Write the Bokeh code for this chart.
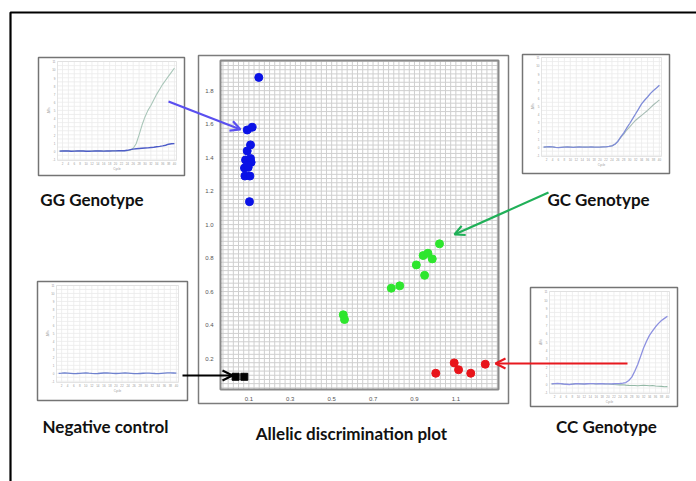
import math
import numpy as np
from bokeh.plotting import figure
from bokeh.models import Range1d, Arrow, OpenHead
from bokeh.core.properties import value
from bokeh.embed import file_html
from bokeh.resources import INLINE

# ---------------- data: allelic discrimination plot ----------------
gg_x = [0.148, 0.092, 0.116, 0.108, 0.092, 0.084, 0.108, 0.111, 0.079, 0.097, 0.094, 0.081, 0.105, 0.103]
gg_y = [1.879, 1.565, 1.581, 1.476, 1.440, 1.386, 1.395, 1.372, 1.338, 1.342, 1.355, 1.290, 1.290, 1.137]
gc_x = [1.021, 0.942, 0.965, 0.986, 0.909, 0.949, 0.788, 0.829, 0.556, 0.562]
gc_y = [0.885, 0.815, 0.829, 0.795, 0.759, 0.697, 0.620, 0.634, 0.461, 0.433]
cc_x = [1.092, 1.242, 1.113, 1.003, 1.172]
cc_y = [0.174, 0.166, 0.133, 0.112, 0.112]
ntc_x = [0.036, 0.078]
ntc_y = [0.091, 0.091]

x_ticks = [0.1, 0.3, 0.5, 0.7, 0.9, 1.1]
x_tick_labels = ["0.1", "0.3", "0.5", "0.7", "0.9", "1.1"]
y_ticks = [0.2, 0.4, 0.6, 0.8, 1.0, 1.2, 1.4, 1.6, 1.8]
y_tick_labels = ["0.2", "0.4", "0.6", "0.8", "1.0", "1.2", "1.4", "1.6", "1.8"]

# ---------------- data: amplification plots (cycles 1..40) ----------------
cycles = list(range(1, 41))
gg_curve_blue = [0.00, 0.02, 0.03, 0.01, -0.02, 0.00, 0.02, 0.03, 0.01, -0.01,
                 -0.02, 0.00, 0.02, 0.03, 0.02, 0.00, 0.01, 0.02, 0.03, 0.03,
                 0.04, 0.04, 0.05, 0.10, 0.18, 0.25, 0.30, 0.33, 0.36, 0.38,
                 0.40, 0.44, 0.48, 0.53, 0.58, 0.64, 0.72, 0.85, 0.90, 0.92]
gg_curve_pale = [0.00, 0.02, 0.03, 0.01, -0.02, 0.00, 0.02, 0.03, 0.01, -0.01,
                 -0.02, 0.00, 0.02, 0.03, 0.02, 0.00, 0.01, 0.02, 0.03, 0.03,
                 0.04, 0.04, 0.05, 0.06, 0.10, 0.35, 0.90, 2.00, 3.20, 4.20,
                 5.00, 5.60, 6.30, 7.00, 7.60, 8.20, 8.70, 9.20, 9.70, 10.20]
gc_curve_blue = [0.00, 0.03, 0.05, 0.02, -0.03, -0.05, -0.02, 0.01, 0.02, 0.00,
                 -0.02, 0.00, 0.02, 0.01, 0.00, 0.01, 0.02, 0.00, -0.01, 0.00,
                 0.02, 0.04, 0.08, 0.15, 0.35, 0.70, 1.25, 1.75, 2.35, 2.90,
                 3.50, 4.10, 4.70, 5.30, 5.75, 6.15, 6.60, 6.95, 7.25, 7.60]
gc_curve_pale = [0.00, 0.03, 0.05, 0.02, -0.03, -0.05, -0.02, 0.01, 0.02, 0.00,
                 -0.02, 0.00, 0.02, 0.01, 0.00, 0.01, 0.02, 0.00, -0.01, 0.00,
                 0.02, 0.04, 0.08, 0.15, 0.35, 0.70, 1.20, 1.60, 2.10, 2.50,
                 2.90, 3.30, 3.60, 3.90, 4.20, 4.50, 4.85, 5.20, 5.50, 5.80]
cc_curve_blue = [0.00, 0.02, 0.04, 0.02, -0.02, -0.05, -0.08, -0.03, 0.01, 0.02,
                 0.00, -0.02, 0.01, 0.03, 0.02, 0.00, 0.01, 0.02, 0.00, -0.01,
                 0.00, 0.01, 0.02, 0.04, 0.08, 0.15, 0.40, 0.80, 1.50, 2.30,
                 3.30, 4.30, 5.10, 5.80, 6.30, 6.80, 7.20, 7.55, 7.80, 8.05]
cc_curve_green = [0.00, 0.02, 0.04, 0.02, -0.02, -0.05, -0.08, -0.03, 0.01, 0.02,
                  0.00, -0.02, 0.01, 0.03, 0.02, 0.00, 0.01, 0.02, 0.00, -0.01,
                  -0.05, -0.08, -0.10, -0.12, -0.10, -0.15, -0.18, -0.20, -0.20, -0.22,
                  -0.20, -0.18, -0.20, -0.22, -0.20, -0.25, -0.28, -0.30, -0.35, -0.33]
ntc_curve = [0.00, 0.02, 0.05, 0.03, 0.00, -0.03, -0.02, 0.00, 0.03, 0.05,
             0.02, -0.01, -0.03, -0.02, 0.01, 0.04, 0.05, 0.03, 0.00, -0.02,
             -0.01, 0.02, 0.04, 0.03, 0.00, -0.04, -0.05, -0.02, 0.01, 0.03,
             0.02, 0.00, -0.02, -0.03, 0.00, 0.03, 0.05, 0.06, 0.04, 0.02]
inset_x_ticks = list(range(2, 41, 2))
inset_y_ticks = list(range(-1, 12))

panel_titles = ["GG Genotype", "GC Genotype", "Negative control", "CC Genotype", "Allelic discrimination plot"]

# ---------------- canvas ----------------
W, H = 696, 481
p = figure(width=W, height=H, x_range=Range1d(0, W), y_range=Range1d(H, 0),
           output_backend="svg", toolbar_location=None,
           x_axis_type=None, y_axis_type=None, min_border=0,
           outline_line_color=None, background_fill_color="white",
           border_fill_color="white")

# outer black frame
p.quad(left=[10], right=[705], top=[12], bottom=[495], fill_color=None,
       line_color="black", line_width=2.2)

# main panel box
p.quad(left=[198], right=[508], top=[55], bottom=[403], fill_color="white",
       line_color="#7c7c7c", line_width=1.5)

XMIN, XMAX = -0.037, 1.306
YMIN, YMAX = 0.015, 1.98
main = p.subplot(x_source=Range1d(XMIN, XMAX), y_source=Range1d(YMIN, YMAX),
                 x_target=Range1d(220, 498), y_target=Range1d(389, 60))

gx = np.arange(-0.025, XMAX, 0.025)
gy = np.arange(0.025, YMAX, 0.025)
main.segment(x0=gx, y0=YMIN, x1=gx, y1=YMAX, line_color="#cfcfcf", line_width=1)
main.segment(x0=XMIN, y0=gy, x1=XMAX, y1=gy, line_color="#cfcfcf", line_width=1)
main.quad(left=[XMIN], right=[XMAX], bottom=[YMIN], top=[YMAX], fill_color=None,
          line_color="#8a8a8a", line_width=2)

main.text(x=x_ticks, y=YMIN, text=x_tick_labels, y_offset=7, text_align="center",
          text_baseline="top", text_font=value("Liberation Sans"), text_font_size="6px",
          text_color="#555555")
main.text(x=XMIN, y=y_ticks, text=y_tick_labels, x_offset=-7, text_align="right",
          text_baseline="middle", text_font=value("Liberation Sans"), text_font_size="6px",
          text_color="#555555")

main.scatter(gg_x, gg_y, size=8, marker="circle", fill_color="#0a12e6", line_color="#0a12e6")
main.scatter(gc_x, gc_y, size=8, marker="circle", fill_color="#2ee62e", line_color="#2ee62e")
main.scatter(cc_x, cc_y, size=8, marker="circle", fill_color="#e8141a", line_color="#e8141a")
main.scatter(ntc_x, ntc_y, size=7, marker="square", fill_color="black", line_color="black")


# ---------------- insets ----------------
def inset(box, inner, curves):
    bl, bt, br, bb = box
    il, it, ir, ib = inner
    p.quad(left=[bl], right=[br], top=[bt], bottom=[bb], fill_color="white",
           line_color="#747474", line_width=1.5)
    x0, x1, y0, y1 = 0.3, 40.7, -1.15, 11.0
    s = p.subplot(x_source=Range1d(x0, x1), y_source=Range1d(y0, y1),
                  x_target=Range1d(il, ir), y_target=Range1d(ib, it))
    vx = inset_x_ticks
    hy = np.arange(-1.0, 11.01, 0.5)
    s.segment(x0=vx, y0=y0, x1=vx, y1=y1, line_color="#ebebeb", line_width=0.8)
    s.segment(x0=x0, y0=hy, x1=x1, y1=hy, line_color="#ebebeb", line_width=0.8)
    s.quad(left=[x0], right=[x1], bottom=[y0], top=[y1], fill_color=None,
           line_color="#dddddd", line_width=0.8)
    s.text(x=vx, y=y0, text=[str(t) for t in vx], y_offset=1.5, text_align="center",
           text_baseline="top", text_font=value("Liberation Sans"), text_font_size="3px",
           text_color="#9a9a9a")
    s.text(x=x0, y=inset_y_ticks, text=[str(t) for t in inset_y_ticks], x_offset=-2,
           text_align="right", text_baseline="middle", text_font=value("Liberation Sans"),
           text_font_size="3px", text_color="#9a9a9a")
    s.text(x=[(x0 + x1) / 2], y=[y0], text=["Cycle"], y_offset=6, text_align="center",
           text_baseline="top", text_font=value("Liberation Sans"), text_font_size="3px",
           text_color="#9a9a9a")
    s.text(x=[x0], y=[5.0], text=["ΔRn"], x_offset=-9, angle=math.pi / 2,
           text_align="center", text_baseline="middle", text_font=value("Liberation Sans"),
           text_font_size="3px", text_color="#9a9a9a")
    for ys, c, w in curves:
        s.line(cycles, ys, line_color=c, line_width=w)


inset((38, 57, 184, 175), (57, 61, 176, 160),
      [(gg_curve_pale, "#a9c6b9", 1.1), (gg_curve_blue, "#4d5cc8", 1.4)])
inset((522, 54, 669, 173), (541, 57, 661, 156),
      [(gc_curve_pale, "#a6bcb4", 1.1), (gc_curve_blue, "#7f8cd8", 1.3)])
inset((37, 281, 187, 400), (56, 285, 178, 382),
      [(ntc_curve, "#6f82cf", 1.3)])
inset((530, 287, 677, 406), (549, 291, 669, 393),
      [(cc_curve_green, "#93b8a6", 1.1), (cc_curve_blue, "#8c90e0", 1.3)])

# ---------------- titles ----------------
p.text(x=[91.5, 598, 105, 606, 351], y=[199, 199, 426, 426, 433], text=panel_titles,
       text_align="center", text_baseline="alphabetic", text_font=value("Lato"),
       text_font_style="bold", text_font_size="17px", text_color="#111111")

# ---------------- arrows ----------------
for (xs, ys, xe, ye, c) in [(168, 101, 240, 129, "#5a4ff0"),
                            (548, 192, 454, 234, "#20b058"),
                            (182, 375, 232, 375, "#000000"),
                            (627, 363, 495, 363, "#e8191f")]:
    p.add_layout(Arrow(end=OpenHead(size=10, line_color=c, line_width=2.2),
                       x_start=xs, y_start=ys, x_end=xe, y_end=ye,
                       line_color=c, line_width=2.2))

open("out.html", "w").write(file_html(p, INLINE))
